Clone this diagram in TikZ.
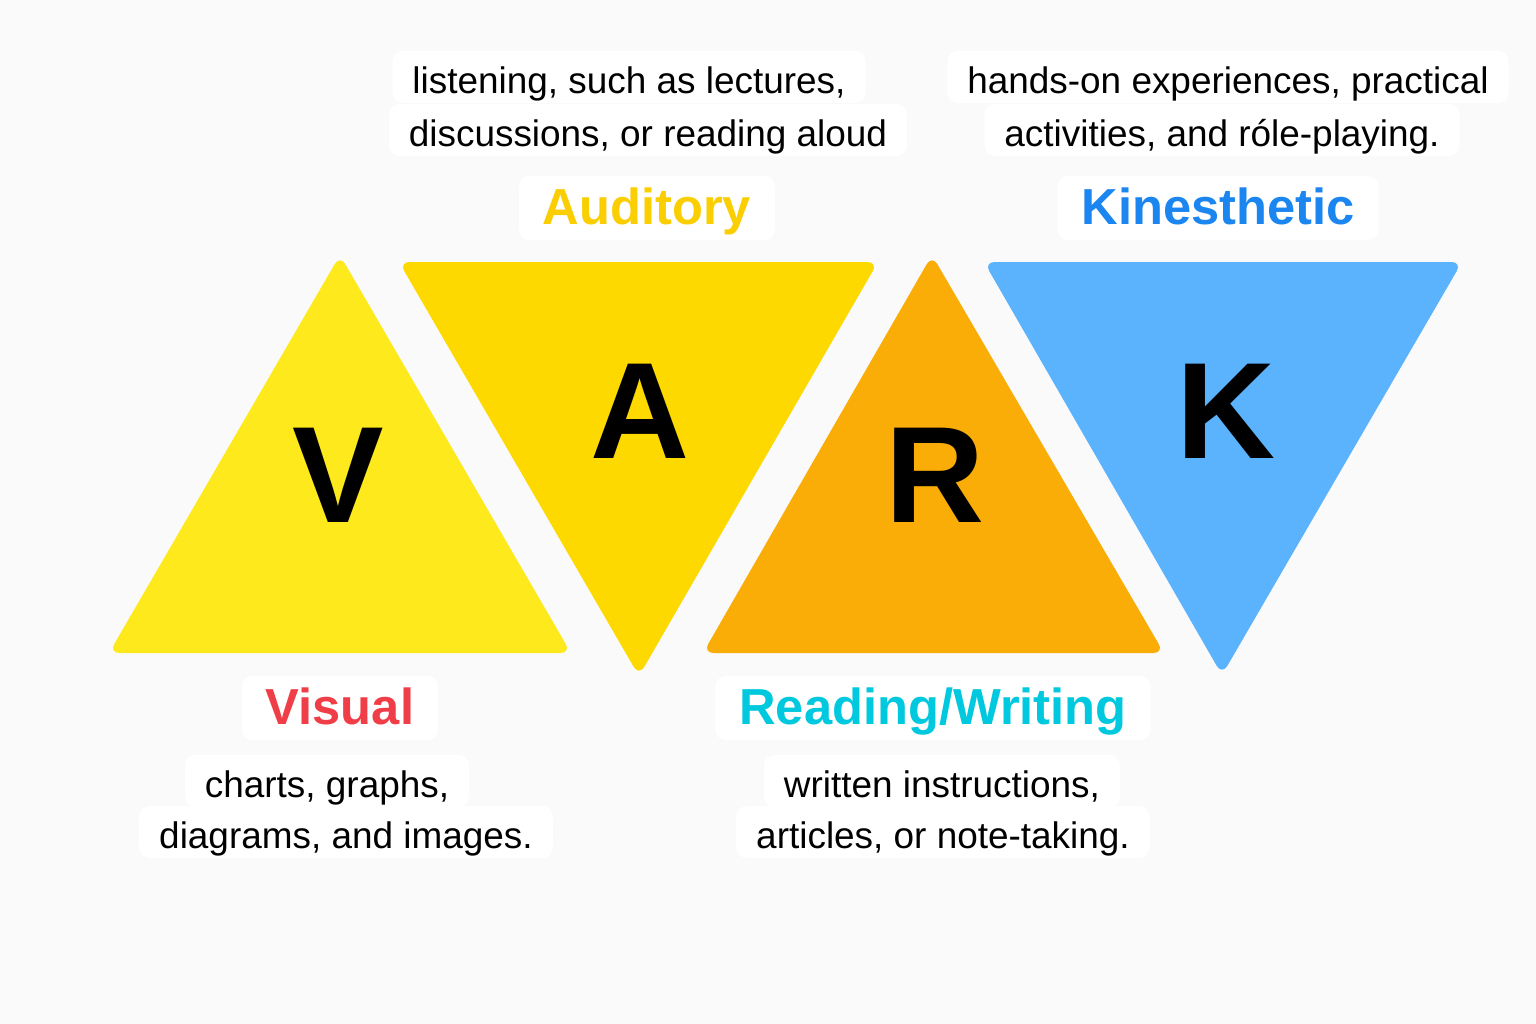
\documentclass[tikz,border=0pt]{standalone}
\usepackage{fontspec}
\setmainfont{Liberation Sans}
\usetikzlibrary{positioning}
\definecolor{visualyellow}{RGB}{253,233,28}
\definecolor{auralgold}{RGB}{253,217,0}
\definecolor{readorange}{RGB}{249,173,6}
\definecolor{kinblue}{RGB}{91,179,253}
\definecolor{visualred}{RGB}{240,62,72}
\definecolor{auraltext}{RGB}{250,206,0}
\definecolor{readcyan}{RGB}{0,200,222}
\definecolor{kintext}{RGB}{28,134,240}
\definecolor{bggray}{RGB}{250,250,250}
\tikzset{
  tri/.style={rounded corners=3pt},
  letter/.style={anchor=base,inner sep=0pt,font=\bfseries\fontsize{39}{40}\selectfont},
  tag/.style={fill=white,rounded corners=3pt,font=\bfseries\fontsize{14.4}{16}\selectfont,
    minimum height=0.64cm,inner xsep=0.24cm,inner ysep=0pt,text height=0.92em,text depth=0pt},
  desc/.style={fill=white,rounded corners=3pt,font=\fontsize{10.5}{12}\selectfont,
    minimum height=0.52cm,inner xsep=0.2cm,inner ysep=0pt,text height=0.94em,text depth=0pt},
}

\begin{document}
\begin{tikzpicture}[x=0.01cm,y=-0.01cm]
    \fill[bggray] (0,0) rectangle (1536,1024);
    \useasboundingbox (0,0) rectangle (1536,1024);

    % the four triangles: V up, A down, R up, K down
    \fill[visualyellow,tri] (340,255) -- (571,653) -- (109,653) -- cycle;
    \fill[auralgold,tri] (399,262) -- (878,262) -- (639,676) -- cycle;
    \fill[readorange,tri] (932,255) -- (1164,653) -- (703,653) -- cycle;
    \fill[kinblue,tri] (984,262) -- (1462,262) -- (1222,675) -- cycle;

    \node[letter] (v) at (338,522) {V};
    \node[letter] (a) at (640,458) {A};
    \node[letter] (r) at (935,522) {R};
    \node[letter] (k) at (1226,458) {K};

    % names of the styles
    \node[tag,text=auraltext] (auditory) at (647,208) {Auditory};
    \node[tag,text=kintext] (kinesthetic) at (1218,208) {Kinesthetic};
    \node[tag,text=visualred] (visual) at (340,708) {Visual};
    \node[tag,text=readcyan] (readwrite) at (933,708) {Reading/Writing};

    % descriptions (lower line first so its box sits under the upper one)
    \node[desc] (auditory2) at (648,130) {discussions, or reading aloud};
    \node[desc] (auditory1) at (629,77) {listening, such as lectures,};
    \node[desc] (kinesthetic2) at (1222,130) {activities, and róle-playing.};
    \node[desc] (kinesthetic1) at (1228,77) {hands-on experiences, practical};
    \node[desc] (visual2) at (346,832) {diagrams, and images.};
    \node[desc] (visual1) at (327,781) {charts, graphs,};
    \node[desc] (readwrite2) at (943,832) {articles, or note-taking.};
    \node[desc] (readwrite1) at (942,781) {written instructions,};
\end{tikzpicture}
\end{document}
